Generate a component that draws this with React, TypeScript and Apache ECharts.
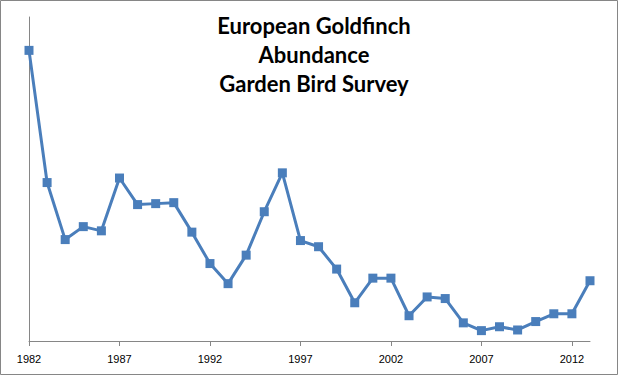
import React, { useEffect, useRef } from "react";
import * as echarts from "echarts";

const years: string[] = [
  "1982","1983","1984","1985","1986","1987","1988","1989","1990","1991",
  "1992","1993","1994","1995","1996","1997","1998","1999","2000","2001",
  "2002","2003","2004","2005","2006","2007","2008","2009","2010","2011",
  "2012","2013",
];

const abundance: number[] = [
  89.7, 48.9, 31.3, 35.3, 34.0, 50.3, 42.1, 42.4, 42.7, 33.6,
  23.9, 17.7, 26.5, 39.9, 51.9, 31.0, 29.1, 22.2, 11.8, 19.4,
  19.4, 7.8, 13.6, 13.1, 5.6, 3.2, 4.4, 3.4, 6.0, 8.4,
  8.4, 18.6,
];

const titleLines: string[] = ["European Goldfinch", "Abundance", "Garden Bird Survey"];

export default function App() {
  const ref = useRef<HTMLDivElement>(null);
  useEffect(() => {
    if (!ref.current) return;
    const chart = echarts.init(ref.current, null, { renderer: "svg" });
    chart.setOption({
      animation: false,
      backgroundColor: "#ffffff",
      title: {
        text: titleLines.join("\n"),
        left: 309,
        textAlign: "center",
        top: 6,
        textStyle: {
          fontFamily: "Lato",
          fontWeight: "bold",
          fontSize: 22,
          lineHeight: 29,
          color: "#000000",
        },
      },
      graphic: [
        {
          type: "rect",
          shape: { x: 0.5, y: 0.5, width: 617, height: 374 },
          style: { fill: "none", stroke: "#868686", lineWidth: 1 },
          silent: true,
        },
      ],
      grid: { left: 29, right: 29, top: 17, bottom: 35 },
      xAxis: {
        type: "category",
        data: years,
        boundaryGap: false,
        axisLine: { lineStyle: { color: "#868686", width: 1 } },
        axisTick: { interval: 4, length: 5, lineStyle: { color: "#868686" } },
        axisLabel: {
          interval: 4,
          margin: 12,
          fontFamily: "Liberation Sans",
          fontSize: 11,
          color: "#000000",
        },
        splitLine: { show: false },
      },
      yAxis: {
        type: "value",
        min: 0,
        max: 100,
        axisLine: { show: true, lineStyle: { color: "#868686", width: 1 } },
        axisTick: { show: false },
        axisLabel: { show: false },
        splitLine: { show: false },
      },
      series: [
        {
          type: "line",
          data: abundance,
          symbol: "rect",
          symbolSize: 9,
          lineStyle: { color: "#4a7ebb", width: 3 },
          itemStyle: { color: "#4a7ebb" },
        },
      ],
    });
    return () => chart.dispose();
  }, []);
  return (
    <div
      ref={ref}
      style={{ position: "fixed", left: 0, top: 0, width: 619, height: 376 }}
    />
  );
}
